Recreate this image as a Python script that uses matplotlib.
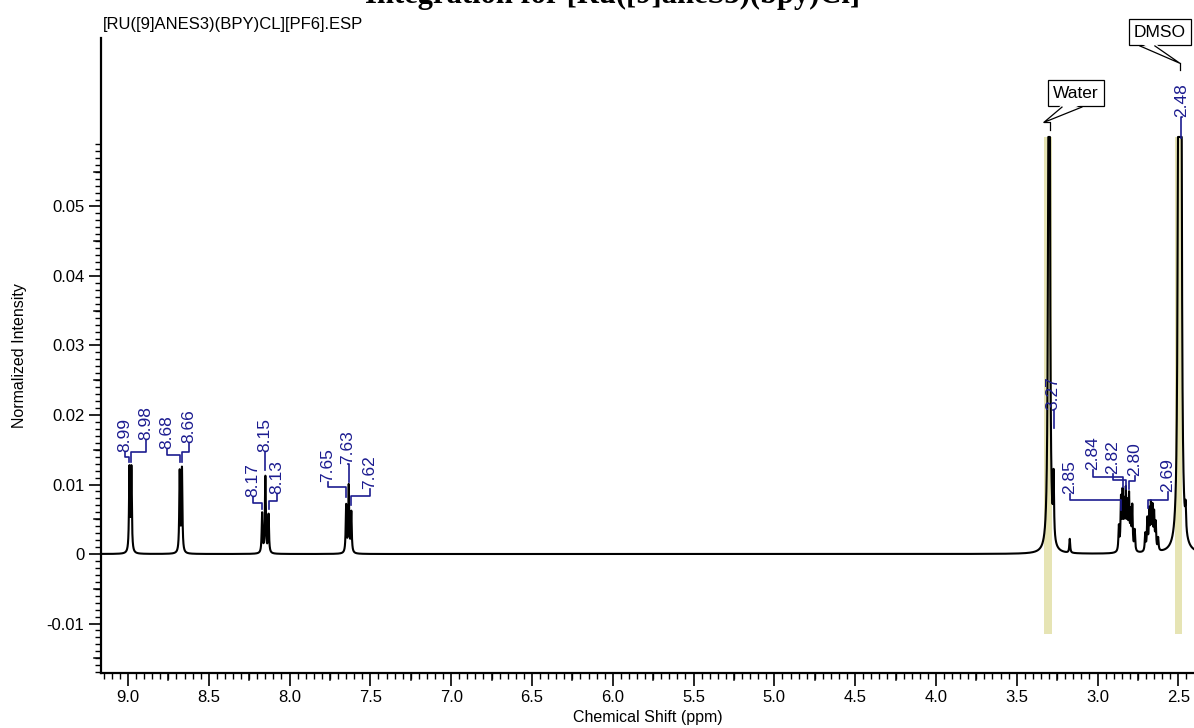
import numpy as np
import matplotlib.pyplot as plt
from matplotlib.patches import Polygon

plt.rcParams['font.family'] = ['Liberation Sans', 'DejaVu Sans']

# peak list (ppm, normalized height)
peak_ppm = [8.991, 8.979, 8.680, 8.666,
            8.170, 8.150, 8.130,
            7.650, 7.634, 7.618,
            3.300, 3.272, 3.172,
            2.868, 2.855, 2.845, 2.835, 2.825, 2.815, 2.805, 2.795, 2.785, 2.770,
            2.705, 2.692, 2.680, 2.670, 2.660, 2.650, 2.640, 2.625,
            2.497, 2.485, 2.455]
peak_height = [0.0120, 0.0120, 0.0116, 0.0120,
               0.0057, 0.0110, 0.0055,
               0.0068, 0.0096, 0.0058,
               0.25, 0.0090, 0.0020,
               0.0035, 0.0072, 0.0078, 0.0062, 0.0080, 0.0060, 0.0074, 0.0050, 0.0062, 0.0030,
               0.0025, 0.0045, 0.0055, 0.0062, 0.0058, 0.0050, 0.0038, 0.0018,
               0.25, 0.25, 0.0035]
line_width = 0.0032
clip_top = 0.06

# peak labels: text, peak ppm, label ppm, label bottom, elbow, end of leader
labels = ['8.99', '8.98', '8.68', '8.66', '8.17', '8.15', '8.13', '7.65', '7.63', '7.62',
          '3.27', '2.85', '2.84', '2.82', '2.80', '2.69', '2.48']
lab_peak = [8.991, 8.979, 8.680, 8.666, 8.170, 8.150, 8.130, 7.650, 7.634, 7.618,
            3.272, 2.853, 2.843, 2.823, 2.803, 2.690, 2.485]
lab_x = [9.019, 8.889, 8.759, 8.623, 8.226, 8.152, 8.078, 7.762, 7.639, 7.502,
         3.276, 3.171, 3.029, 2.905, 2.769, 2.564, 2.478]
lab_bottom = [0.0147, 0.0164, 0.0151, 0.0160, 0.0082, 0.0147, 0.0086, 0.0104, 0.0130, 0.0094,
              0.0207, 0.0086, 0.0121, 0.0115, 0.0112, 0.0089, 0.0629]
lab_elbow = [0.0140, 0.0147, 0.0142, 0.0147, 0.0073, 0.0147, 0.0076, 0.0096, 0.0130, 0.0083,
             0.0207, 0.0078, 0.0111, 0.0106, 0.0105, 0.0078, 0.0629]
lab_end = [0.0133, 0.0133, 0.0132, 0.0132, 0.0065, 0.0121, 0.0065, 0.0082, 0.0104, 0.0071,
           0.0181, 0.0063, 0.0096, 0.0094, 0.0094, 0.0066, 0.0599]

# solvent regions
band_lo = [3.280, 2.480]
band_hi = [3.330, 2.520]
band_bottom = -0.0115

blue = '#1c1c90'

x = np.linspace(9.3, 2.3, 30000)
y = np.zeros_like(x)
for p, h in zip(peak_ppm, peak_height):
    y += h / (1 + ((x - p) / line_width) ** 2)
y = np.minimum(y, clip_top)

fig = plt.figure(figsize=(11.94, 7.28), dpi=100)
ax = fig.add_axes([101 / 1194, 55 / 728, 1093 / 1194, 635 / 728])

for lo, hi in zip(band_lo, band_hi):
    ax.fill_betweenx([band_bottom, clip_top], lo, hi, color='#e6e4b4', lw=0, zorder=1)

ax.plot(x, y, color='black', lw=1.5, zorder=3)

# peak labels with leaders
for t, p, lx, lb, le, en in zip(labels, lab_peak, lab_x, lab_bottom, lab_elbow, lab_end):
    ax.plot([lx, lx, p, p], [lb, le, le, en], color=blue, lw=1.2, zorder=4, clip_on=False)
    ax.text(lx, lb, t, rotation=90, ha='center', va='bottom', color=blue,
            fontsize=12.5, zorder=4, clip_on=False)


def callout(label, cx, cy, base, base_y, tip, stem):
    ax.text(cx, cy, label, ha='center', va='center', fontsize=12.5, zorder=6,
            bbox=dict(boxstyle='square,pad=0.3', fc='white', ec='black', lw=0.9))
    poly = Polygon([(base[0], base_y + 0.0004), (base[1], base_y + 0.0004), tip],
                   closed=True, fc='white', ec='none', zorder=7, clip_on=False)
    ax.add_patch(poly)
    ax.plot([base[0], tip[0], base[1]], [base_y, tip[1], base_y], color='black',
            lw=0.9, zorder=8, clip_on=False)
    ax.plot(stem[0], stem[1], color='black', lw=0.9, zorder=8, clip_on=False)


callout('Water', 3.134, 0.0663, (3.220, 3.097), 0.0643, (3.332, 0.0621),
        ([3.332, 3.332, 3.295, 3.295], [0.0621, 0.0621, 0.0621, 0.0610]))
callout('DMSO', 2.614, 0.0751, (2.738, 2.645), 0.0731, (2.490, 0.0706),
        ([2.490, 2.490], [0.0706, 0.0696]))

ax.set_xlim(9.167, 2.403)
ax.set_ylim(-0.01712, 0.07424)

ax.spines['top'].set_visible(False)
ax.spines['right'].set_visible(False)
for s in ['left', 'bottom']:
    ax.spines[s].set_linewidth(1.6)

xt = np.arange(9.0, 2.49, -0.5)
ax.set_xticks(xt)
ax.set_xticklabels([f'{v:.1f}' for v in xt])
ax.set_xticks(np.arange(9.15, 2.40, -0.05), minor=True)
yt = [-0.01, 0, 0.01, 0.02, 0.03, 0.04, 0.05]
ax.set_yticks(yt)
ax.set_yticklabels(['-0.01', '0', '0.01', '0.02', '0.03', '0.04', '0.05'])
ax.set_yticks(np.arange(-0.017, 0.0595, 0.001), minor=True)
ax.tick_params(which='major', length=9, width=1.2, labelsize=12, direction='out', pad=3)
ax.tick_params(which='minor', length=4, width=1.0, direction='out')

# medium ticks
for v in np.arange(8.75, 2.4, -0.5):
    ax.plot([v, v], [0, -0.011], transform=ax.get_xaxis_transform(), color='black',
            lw=1.1, clip_on=False)
for v in np.arange(-0.015, 0.06, 0.01):
    ax.plot([0, -0.0065], [v, v], transform=ax.get_yaxis_transform(), color='black',
            lw=1.1, clip_on=False)

ax.set_xlabel('Chemical Shift (ppm)', fontsize=11.5, labelpad=4)
ax.set_ylabel('Normalized Intensity', fontsize=11.5, labelpad=14)

fig.text(103 / 1194, 1 - 25 / 728, '[RU([9]ANES3)(BPY)CL][PF6].ESP', fontsize=12,
         ha='left', va='center')
# page title, mostly cut off at the top edge as in the source image
fig.text(860 / 1194, 1 - 2.5 / 728, 'Integration for [Ru([9]aneS3)(bpy)Cl]',
         fontsize=22, fontweight='bold', family='Liberation Serif', ha='right', va='baseline')

fig.savefig('out.png', dpi=100)
